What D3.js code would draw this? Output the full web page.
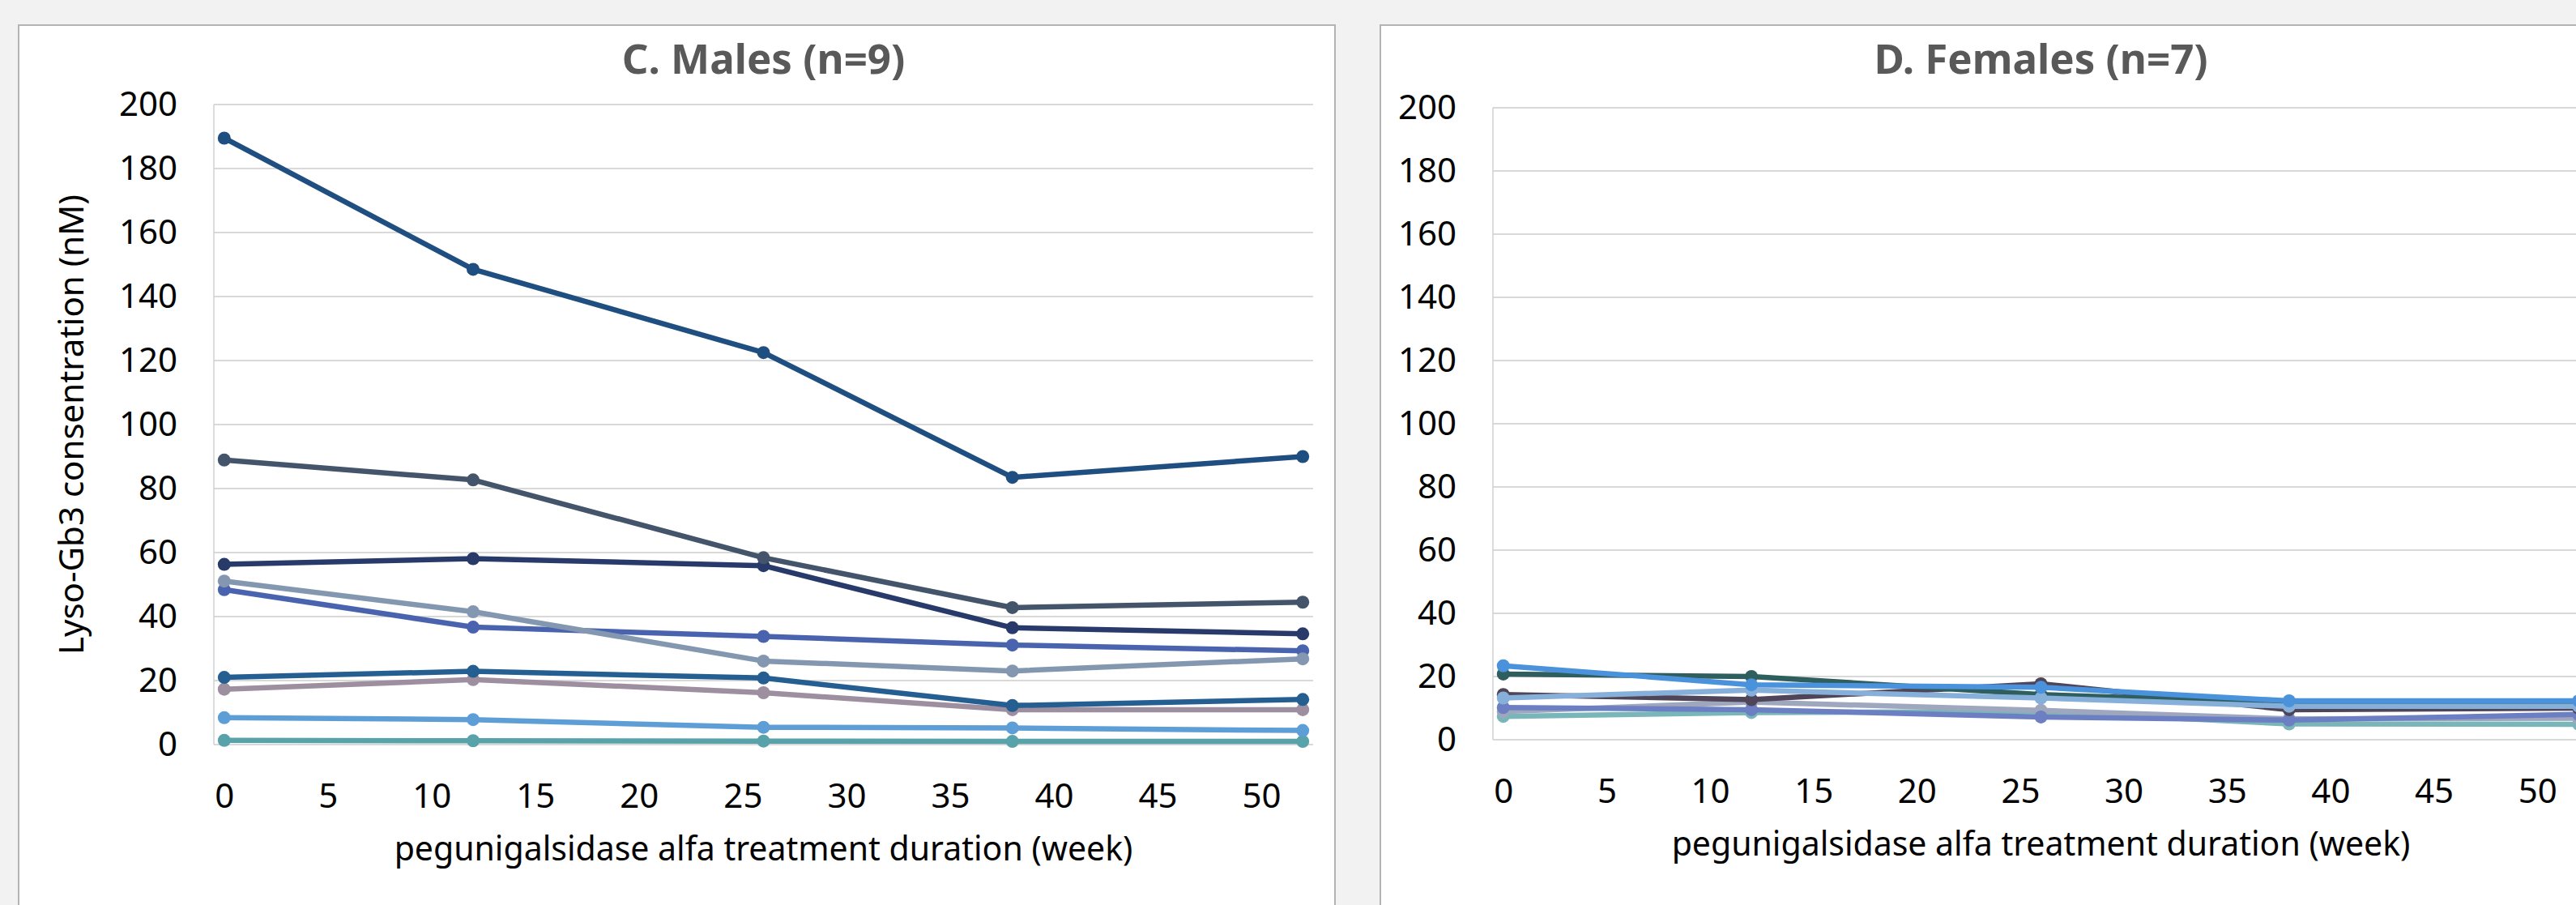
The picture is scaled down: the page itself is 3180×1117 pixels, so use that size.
<!DOCTYPE html>
<html>
<head>
<meta charset="utf-8">
<script src="https://cdn.jsdelivr.net/npm/d3@7"></script>
<style>
body{margin:0;background:#f2f2f2;}
svg{display:block;}
</style>
</head>
<body>
<script>
var weeks=[0,12,26,38,52];
var xTicks=[0,5,10,15,20,25,30,35,40,45,50];
var yTicks=[0,20,40,60,80,100,120,140,160,180,200];

var maleValues=[
	[1.3,1.2,1.1,1.0,1.0],
	[8.4,7.8,5.4,5.2,4.4],
	[17.3,20.3,16.2,10.9,10.9],
	[21.0,22.9,20.8,12.2,14.1],
	[48.4,36.7,33.8,31.1,29.3],
	[51.1,41.5,26.1,23.0,26.8],
	[56.3,58.1,55.9,36.5,34.6],
	[88.9,82.7,58.4,42.8,44.5],
	[189.5,148.5,122.5,83.5,90.0]
];
var maleColors=["#58a2a9","#5e9ed6","#9d8fa0","#255e91","#4a63ae","#8497b0","#283a6a","#44546a","#1f4e80"];

var femaleValues=[
	[7.4,8.6,8.9,5.0,4.9],
	[8.9,11.9,9.3,6.6,6.8],
	[10.2,9.5,7.2,6.2,8.0],
	[14.3,12.7,17.7,9.5,10.0],
	[20.8,20.0,14.3,11.7,11.7],
	[13.2,15.7,13.2,10.6,10.6],
	[23.4,17.4,16.6,12.3,12.3]
];
var femaleColors=["#78b6ba","#9ea7bd","#6b7fc2","#4f4558","#2e5e5e","#86b0da","#4a92dc"];

var svg=d3.select("body")
		.append("svg")
		.attr("width",3180)
		.attr("height",1117);

svg.append("rect")
	.attr("width",3180)
	.attr("height",1117)
	.attr("fill","#f2f2f2");

function panel(box,plot,title,values,colors,yTitle){
	svg.append("rect")
		.attr("x",box[0])
		.attr("y",box[1])
		.attr("width",box[2])
		.attr("height",box[3])
		.attr("fill","white")
		.attr("stroke","#b4b4b4")
		.attr("stroke-width",2);

	var x=d3.scaleLinear().domain([-0.5,52.5]).range([plot.left,plot.right]);
	var y=d3.scaleLinear().domain([0,200]).range([plot.bottom,plot.top]);

	//grid
	svg.append("g").selectAll("line")
		.data(yTicks)
		.join("line")
		.attr("x1",plot.left)
		.attr("x2",plot.right)
		.attr("y1",function(d){return y(d);})
		.attr("y2",function(d){return y(d);})
		.attr("stroke","#d9d9d9")
		.attr("stroke-width",2);
	svg.append("line")
		.attr("x1",plot.left)
		.attr("x2",plot.left)
		.attr("y1",y(200))
		.attr("y2",y(0))
		.attr("stroke","#d0d0d0")
		.attr("stroke-width",1.5);

	var ya=svg.append("g")
		.attr("transform","translate("+plot.left+",0)")
		.call(d3.axisLeft(y).tickValues(yTicks).tickSize(0).tickPadding(45));
	var xa=svg.append("g")
		.attr("transform","translate(0,"+y(0)+")")
		.call(d3.axisBottom(x).tickValues(xTicks).tickSize(0).tickPadding(48));
	[ya,xa].forEach(function(a){
		a.select(".domain").remove();
		a.selectAll("text")
			.attr("font-family","Noto Sans")
			.attr("font-size",42)
			.attr("fill","#000");
	});

	svg.append("text")
		.attr("x",(plot.left+plot.right)/2)
		.attr("y",91)
		.attr("text-anchor","middle")
		.attr("font-family","Noto Sans")
		.attr("font-weight","bold")
		.attr("font-size",51)
		.attr("fill","#595959")
		.text(title);

	svg.append("text")
		.attr("x",(plot.left+plot.right)/2)
		.attr("y",y(0)+143)
		.attr("text-anchor","middle")
		.attr("font-family","Noto Sans")
		.attr("font-size",41)
		.attr("fill","#000")
		.text("pegunigalsidase alfa treatment duration (week)");

	if(yTitle){
		svg.append("text")
			.attr("transform","translate(103,"+((plot.top+plot.bottom)/2)+") rotate(-90)")
			.attr("text-anchor","middle")
			.attr("font-family","Noto Sans")
			.attr("font-size",42)
			.attr("fill","#000")
			.text(yTitle);
	}

	var line=d3.line()
		.x(function(d,i){return x(weeks[i]);})
		.y(function(d){return y(d);});

	values.forEach(function(v,k){
		var g=svg.append("g");
		g.append("path")
			.attr("d",line(v))
			.attr("fill","none")
			.attr("stroke",colors[k])
			.attr("stroke-width",6.5)
			.attr("stroke-linejoin","round");
		g.selectAll("circle")
			.data(v)
			.join("circle")
			.attr("cx",function(d,i){return x(weeks[i]);})
			.attr("cy",function(d){return y(d);})
			.attr("r",8)
			.attr("fill",colors[k]);
	});
}

panel([23,31,1625,1200],{left:264,right:1621,top:129,bottom:919},"C. Males (n=9)",maleValues,maleColors,"Lyso-Gb3 consentration (nM)");
panel([1704,31,1625,1200],{left:1843,right:3196,top:133,bottom:913},"D. Females (n=7)",femaleValues,femaleColors,null);
</script>
</body>
</html>
